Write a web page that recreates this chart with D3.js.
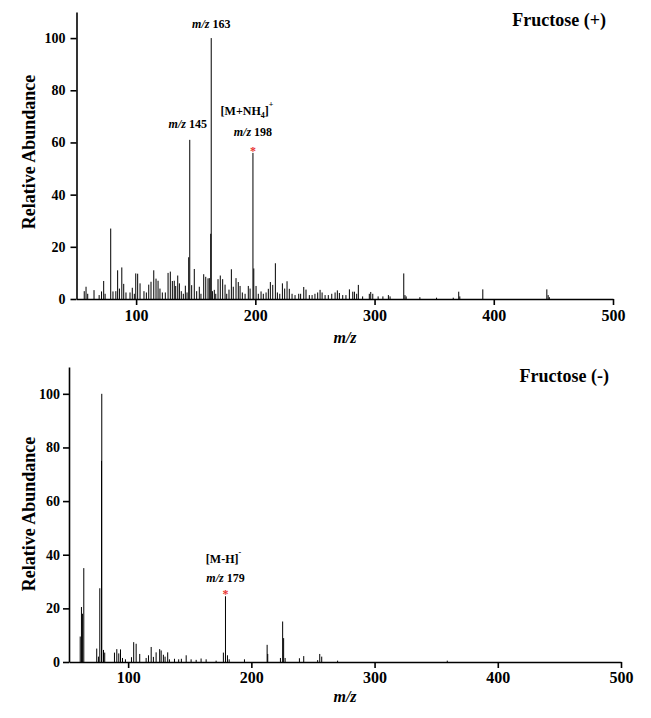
<!DOCTYPE html>
<html>
<head>
<meta charset="utf-8">
<script src="https://cdn.jsdelivr.net/npm/d3@7"></script>
<style>
  body { margin: 0; background: #fff; }
  svg text { font-family: "Liberation Serif", "Times New Roman", serif; font-weight: bold; }
</style>
</head>
<body>
<svg id="chart" width="651" height="718"></svg>
<script>
// positive mode spectrum, m/z and relative abundance
let posMz = [56.5, 58, 59.4, 64.7, 69, 71, 72.8, 74, 78.7, 80.6, 83, 84.5, 86, 88, 89.6, 91.5, 94.9, 96.8, 98.5, 99.7,
    101.3, 103.3, 106.6, 108.6, 110.6, 112.5, 114.8, 116.7, 118.4, 120, 122, 124.5, 126.8, 128.7, 130.4, 132, 133.2, 134.9,
    136.3, 137.9, 139.6, 141.3, 142.7, 144.1, 145, 146.6, 148.8, 150.8, 153, 154.4, 156.7, 158.4, 160.3, 161.4, 162.6, 163,
    164, 165.6, 166.8, 168.7, 170.6, 172.6, 174.6, 176, 177.9, 179.9, 181.5, 183.8, 185.7, 187.2, 189.1, 191.4, 194.1, 195.6,
    198, 198.7, 200.6, 202.5, 204.8, 206.7, 209, 210.9, 212.6, 214.6, 216.8, 218.5, 220.5, 222.7, 224.6, 226.6, 228.5, 230.8,
    233.3, 236.4, 238, 240.6, 242.5, 245.3, 247.6, 250, 252.3, 254.3, 256, 258.5, 261.2, 264.1, 266.9, 268.8, 270.5, 273.3,
    276, 278.9, 281.7, 283.1, 285, 286.4, 290, 295.6, 296.8, 298.5, 303, 307, 311.6, 313, 324.5, 325.5, 326.5, 338, 352,
    366, 370.6, 371.5, 390.8, 444.5, 445.6, 446.6];
let posAb = [3, 4.7, 2, 3.4, 1.5, 2.9, 6.9, 2, 27, 2.9, 3, 11, 4, 12.1, 5.8, 2.5, 2.5, 4.3, 2, 9.8,
    9.7, 6, 3, 2.5, 5.5, 6.6, 11, 7.8, 7, 4, 2.5, 2.5, 10, 10.5, 6.9, 7, 5, 9,
    6, 3, 2, 5.1, 2.5, 16, 61, 5.3, 11.5, 3, 4.7, 2, 9.5, 8.5, 7.9, 8, 25, 100,
    3, 3.5, 2, 7.6, 9, 7.6, 5.5, 2, 3.6, 11.4, 4.7, 8, 6.5, 5, 2.5, 2, 5, 4,
    56, 11.7, 5, 2, 2.9, 2, 2.5, 3.9, 6.5, 5.4, 13.7, 2.5, 2, 6, 4, 6.8, 3.9, 2,
    1.5, 2, 2, 4.6, 3.6, 1.5, 1.5, 2, 2.5, 3.5, 2.5, 1.5, 1.5, 2, 2.5, 3.3, 2.3, 1.5,
    1.5, 3.7, 2.8, 2.8, 2, 5.4, 1, 2, 2.7, 2, 1, 1, 1.5, 1, 9.8, 1.5, 1, 0.7, 0.5,
    0.5, 2.8, 1, 3.7, 3.7, 1.5, 0.7];

// negative mode spectrum
let negMz = [61.1, 62.1, 62.9, 64, 74.5, 75.9, 77, 78.4, 78.6, 80, 81, 88.9, 90.8, 92.4, 93.8, 95.4, 97.8, 102.7, 104.5,
    106.5, 109.4, 114.6, 116.5, 118.7, 120.5, 122.7, 125.6, 126.8, 128.6, 130, 132.1, 133.5, 137.6, 141, 143.2, 147.1,
    151.1, 155.2, 159.2, 163.3, 171.4, 177.3, 179, 180.6, 182, 194.4, 212.8, 213.3, 223.6, 225.4, 226.2, 227.4, 239,
    242.5, 253.8, 255.5, 257.1, 270, 359];
let negAb = [9.5, 20.5, 18, 35, 5, 2, 27.5, 75, 100, 4.5, 3.5, 3.5, 4.8, 3.2, 4.7, 1.5, 1, 1.8, 7.4,
    6.8, 3, 1.5, 2.5, 5.6, 1.9, 3.6, 4.8, 4.3, 2.7, 2, 3.6, 1, 1.2, 1, 1.2, 2.5,
    1, 0.8, 1.3, 1, 0.5, 3.5, 24.5, 2.5, 1, 1, 6.4, 3, 1.5, 15.1, 8.9, 1.5, 1.4,
    2.2, 0.7, 3, 2, 0.5, 0.5];

let xTicks = [100, 200, 300, 400, 500];
let yTicks = [0, 20, 40, 60, 80, 100];

let svg = d3.select("#chart");

function drawPanel(p) {
    let x = d3.scaleLinear().domain(p.xDomain).range([p.left, p.right]);
    let y = d3.scaleLinear().domain([0, 110]).range([p.bottom, p.top]);
    let g = svg.append("g");

    // spectrum sticks
    g.append("g").selectAll("line")
        .data(p.mz)
        .enter().append("line")
        .attr("x1", function(d) { return x(d); })
        .attr("x2", function(d) { return x(d); })
        .attr("y1", y(0))
        .attr("y2", function(d, i) { return y(p.ab[i]); })
        .attr("stroke", "#000")
        .attr("stroke-width", 1);

    let xAxis = g.append("g")
        .attr("transform", "translate(0," + p.bottom + ")")
        .call(d3.axisBottom(x).tickValues(xTicks).tickSize(6).tickSizeOuter(0).tickPadding(p.xPad));
    xAxis.selectAll("text").style("font-size", "16px");

    let yAxis = g.append("g")
        .attr("transform", "translate(" + p.left + ",0)")
        .call(d3.axisLeft(y).tickValues(yTicks).tickSize(6).tickSizeOuter(0).tickPadding(p.yPad));
    yAxis.selectAll("text").style("font-size", "14px");

    g.selectAll(".domain").attr("stroke-width", 1.6);
    g.selectAll(".tick line").attr("stroke-width", 1.6);
    g.selectAll(".tick text").style("fill", "#000");

    // axis titles
    g.append("text")
        .attr("x", p.mzX).attr("y", p.mzY)
        .attr("text-anchor", "middle")
        .style("font-size", "16px")
        .style("font-style", "italic")
        .text("m/z");

    g.append("text")
        .attr("transform", "translate(" + p.ytX + "," + p.ytY + ") rotate(-90)")
        .attr("text-anchor", "middle")
        .attr("dominant-baseline", "central")
        .style("font-size", "18px")
        .text("Relative Abundance");

    g.append("text")
        .attr("x", p.titleX).attr("y", p.titleY)
        .attr("text-anchor", "end")
        .style("font-size", "18px")
        .text(p.title);

    // peak annotations
    p.notes.forEach(function(n) {
        let t = g.append("text")
            .attr("x", x(n.mz) + (n.dx || 0)).attr("y", y(n.ab) + n.dy)
            .attr("text-anchor", "middle")
            .style("font-size", "12px");
        n.parts.forEach(function(s) {
            let ts = t.append("tspan").text(s.t);
            if (s.it) ts.style("font-style", "italic");
            if (s.sub) ts.attr("dy", 3).style("font-size", "8px");
            if (s.sup) ts.attr("dy", -8).style("font-size", "8px");
            if (s.back) ts.attr("dy", s.back);
        });
    });

    p.stars.forEach(function(s) {
        g.append("text")
            .attr("x", x(s.mz)).attr("y", y(s.ab) + 2)
            .attr("text-anchor", "middle")
            .style("font-size", "12px")
            .style("fill", "#e8322f")
            .text("*");
    });
}

drawPanel({
    xDomain: [50, 500], left: 76.5, right: 613, top: 12, bottom: 299,
    xPad: 5, yPad: 5,
    mz: posMz, ab: posAb,
    title: "Fructose (+)", titleX: 606, titleY: 26,
    mzX: 345, mzY: 343, ytX: 29, ytY: 152,
    notes: [
        {mz: 163, ab: 100, dy: -10, parts: [{t: "m/z", it: true}, {t: " 163"}]},
        {mz: 145, ab: 61, dy: -12, dx: -2, parts: [{t: "m/z", it: true}, {t: " 145"}]},
        {mz: 198, ab: 56, dy: -38, dx: -6, parts: [{t: "[M+NH"}, {t: "4", sub: true}, {t: "]", back: -3}, {t: "+", sup: true}]},
        {mz: 198, ab: 56, dy: -17, dx: 0, parts: [{t: "m/z", it: true}, {t: " 198"}]}
    ],
    stars: [{mz: 198, ab: 56}]
});

drawPanel({
    xDomain: [52, 500], left: 69, right: 621, top: 367, bottom: 662,
    xPad: 4, yPad: 3,
    mz: negMz, ab: negAb,
    title: "Fructose (-)", titleX: 609, titleY: 382,
    mzX: 345, mzY: 702, ytX: 29, ytY: 514,
    notes: [
        {mz: 179, ab: 24.5, dy: -33, dx: -2, parts: [{t: "[M-H]"}, {t: "-", sup: true}]},
        {mz: 179, ab: 24.5, dy: -14, dx: 0, parts: [{t: "m/z", it: true}, {t: " 179"}]}
    ],
    stars: [{mz: 179, ab: 24.5}]
});
</script>
</body>
</html>
